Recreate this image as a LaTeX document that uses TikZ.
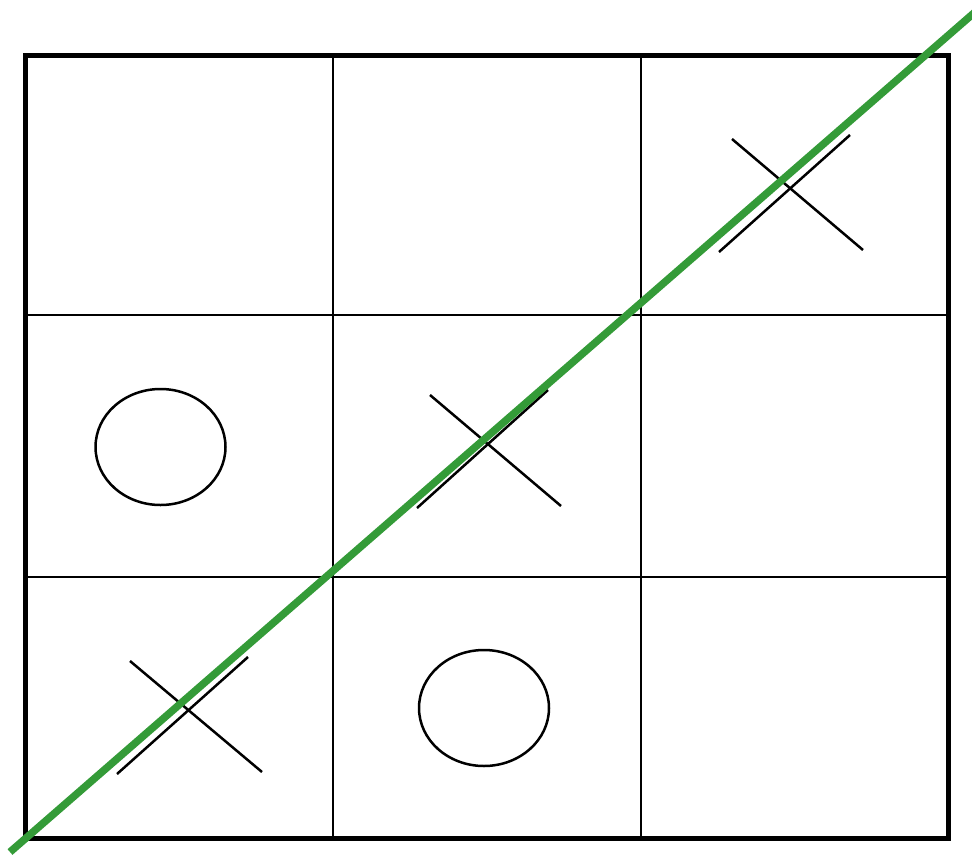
\documentclass[tikz,border=0pt]{standalone}
\definecolor{wingreen}{RGB}{52,155,56}
\begin{document}
\begin{tikzpicture}[x=1pt,y=-1pt,
  inner/.style={line width=2.5pt,black},
  outer/.style={line width=5pt,black},
  glyph/.style={line width=2.5pt,black},
  win/.style={line width=7.5pt,wingreen}]
\useasboundingbox (0,0) rectangle (972,857);
\clip (0,0) rectangle (972,857);
% inner grid lines
\draw[inner] (333,55) -- (333,838);
\draw[inner] (641,55) -- (641,838);
\draw[inner] (25,315) -- (948,315);
\draw[inner] (25,577) -- (948,577);
% outer border
\draw[outer] (25,55) rectangle (948,838);
% O marks
\draw[glyph] (160.5,447) ellipse [x radius=65, y radius=58];
\draw[glyph] (484,708) ellipse [x radius=65, y radius=58];
% X marks
\draw[glyph] (732,139) -- (863,250);
\draw[glyph] (719,252) -- (850,135);
\draw[glyph] (430,395) -- (561,506);
\draw[glyph] (417,508) -- (548,390);
\draw[glyph] (130,661) -- (262,772);
\draw[glyph] (117,774) -- (248,657);
% winning line
\coordinate (w1) at (10,852);
\coordinate (w2) at (982,6);
\draw[win] (w1) -- (w2);
\end{tikzpicture}
\end{document}
